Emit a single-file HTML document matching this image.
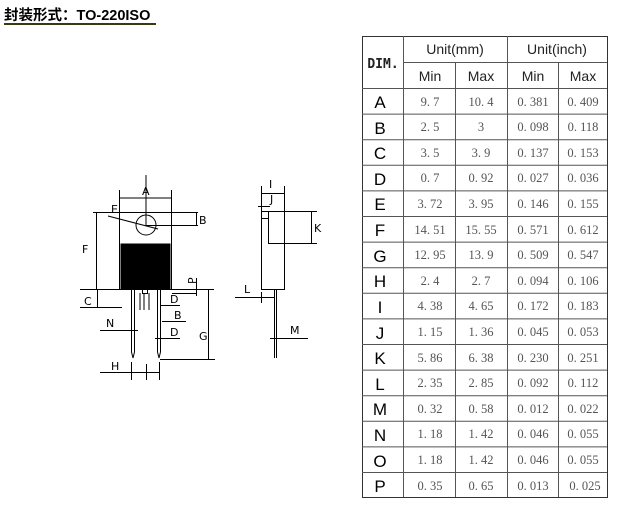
<!DOCTYPE html>
<html><head><meta charset="utf-8"><style>
html,body{margin:0;padding:0;background:#fff;}
body{width:618px;height:506px;overflow:hidden;position:relative;}
</style></head><body>
<svg width="618" height="506" viewBox="0 0 618 506" xmlns="http://www.w3.org/2000/svg" style="position:absolute;left:0;top:0">
<text x="4" y="20" font-family="'Liberation Sans','Noto Sans CJK SC',sans-serif" font-size="14.5" font-weight="bold" fill="#000">封装形式：TO-220ISO</text>
<line x1="4" y1="24" x2="156" y2="24" stroke="#3a3a10" stroke-width="2"/>

<g stroke="#000" stroke-width="1" fill="none">
<rect x="119.5" y="212.5" width="52" height="77"/>
<rect x="121" y="244" width="49" height="45" fill="#000"/>
<circle cx="146" cy="225" r="10"/>
<line x1="108" y1="216" x2="158" y2="229"/>
<line x1="146" y1="175" x2="146" y2="226"/>
<line x1="119.5" y1="198" x2="171.5" y2="198"/>
<line x1="119.5" y1="190" x2="119.5" y2="212"/>
<line x1="171.5" y1="190" x2="171.5" y2="212"/>
<line x1="146" y1="225.5" x2="198" y2="225.5"/>
<line x1="171" y1="212.5" x2="198" y2="212.5"/>
<line x1="196.5" y1="212" x2="196.5" y2="226"/>
<line x1="93" y1="212.5" x2="119" y2="212.5"/>
<line x1="96.5" y1="212" x2="96.5" y2="289"/>
<line x1="80" y1="289.5" x2="214" y2="289.5"/>
<line x1="97.5" y1="289" x2="97.5" y2="307"/>
<line x1="80" y1="307.5" x2="122" y2="307.5"/>
<line x1="196.5" y1="278" x2="196.5" y2="296"/>
<line x1="172" y1="293.5" x2="196" y2="293.5"/>
<rect x="142.5" y="289.5" width="5" height="4"/>
<path d="M131.5 289.5 V352 L133 358 L134.5 352 V289.5"/>
<path d="M157.5 289.5 V352 L159 358 L160.5 352 V289.5"/>
<line x1="208.5" y1="289" x2="208.5" y2="359"/>
<line x1="160" y1="359.5" x2="215" y2="359.5"/>
<line x1="100" y1="330.5" x2="138" y2="330.5"/>
<line x1="160" y1="305.5" x2="180" y2="305.5"/>
<line x1="162" y1="321.5" x2="186" y2="321.5"/>
<line x1="155" y1="338.5" x2="180" y2="338.5"/>
<line x1="140" y1="293" x2="140" y2="310"/>
<line x1="144" y1="293" x2="144" y2="310"/>
<line x1="149" y1="293" x2="149" y2="310"/>
<line x1="100" y1="372.5" x2="160" y2="372.5"/>
<line x1="131.5" y1="362" x2="131.5" y2="380"/>
<line x1="146.5" y1="364" x2="146.5" y2="380"/>
<line x1="159.5" y1="362" x2="159.5" y2="380"/>
<rect x="261.5" y="211.5" width="23" height="78"/>
<line x1="268.5" y1="211.5" x2="268.5" y2="243"/>
<line x1="268" y1="243.5" x2="284" y2="243.5"/>
<line x1="262" y1="218.5" x2="268" y2="218.5"/>
<line x1="284" y1="211.5" x2="317" y2="211.5"/>
<line x1="284" y1="243.5" x2="317" y2="243.5"/>
<line x1="311.5" y1="211" x2="311.5" y2="244"/>
<line x1="261.5" y1="186" x2="261.5" y2="211"/>
<line x1="284.5" y1="186" x2="284.5" y2="211"/>
<line x1="261.5" y1="193.5" x2="284.5" y2="193.5"/>
<line x1="258" y1="206.5" x2="270" y2="206.5"/>
<line x1="274.5" y1="289.5" x2="274.5" y2="358"/>
<line x1="276.5" y1="289.5" x2="276.5" y2="358"/>
<line x1="235" y1="297.5" x2="275" y2="297.5"/>
<line x1="261.5" y1="292" x2="261.5" y2="303"/>
<line x1="270" y1="338.5" x2="308" y2="338.5"/>
</g>
<g font-family="'DejaVu Sans',sans-serif" font-size="11" fill="#000">
<text x="142" y="195">A</text>
<text x="111" y="213">E</text>
<text x="199" y="224">B</text>
<text x="82" y="253">F</text>
<text x="84" y="305">C</text>
<text x="192" y="288" transform="rotate(-90 192 284)">P</text>
<text x="170" y="303">D</text>
<text x="174" y="319">B</text>
<text x="170" y="336">D</text>
<text x="199" y="340">G</text>
<text x="106" y="327">N</text>
<text x="111" y="370">H</text>
<text x="269" y="188">I</text>
<text x="270" y="203">J</text>
<text x="314" y="232">K</text>
<text x="244" y="293">L</text>
<text x="290" y="334">M</text>
</g>

<g stroke="#555" stroke-width="1">
<rect x="362.5" y="36.5" width="245" height="461" fill="none" stroke="#333"/>
<line x1="403.5" y1="36" x2="403.5" y2="497"/>
<line x1="507.5" y1="36" x2="507.5" y2="497"/>
<line x1="455.5" y1="62" x2="455.5" y2="497"/>
<line x1="558.5" y1="62" x2="558.5" y2="497"/>
<line x1="403" y1="62.5" x2="607" y2="62.5"/>
<line x1="362" y1="88.5" x2="607" y2="88.5"/>
<line x1="362" y1="114.1" x2="607" y2="114.1"/><line x1="362" y1="139.7" x2="607" y2="139.7"/><line x1="362" y1="165.3" x2="607" y2="165.3"/><line x1="362" y1="190.9" x2="607" y2="190.9"/><line x1="362" y1="216.5" x2="607" y2="216.5"/><line x1="362" y1="242.1" x2="607" y2="242.1"/><line x1="362" y1="267.7" x2="607" y2="267.7"/><line x1="362" y1="293.3" x2="607" y2="293.3"/><line x1="362" y1="318.9" x2="607" y2="318.9"/><line x1="362" y1="344.5" x2="607" y2="344.5"/><line x1="362" y1="370.1" x2="607" y2="370.1"/><line x1="362" y1="395.7" x2="607" y2="395.7"/><line x1="362" y1="421.3" x2="607" y2="421.3"/><line x1="362" y1="446.9" x2="607" y2="446.9"/><line x1="362" y1="472.5" x2="607" y2="472.5"/>
</g>
<g font-family="'Liberation Sans',sans-serif" font-size="14" fill="#222" text-anchor="middle">
<text x="383" y="68" font-family="'DejaVu Sans Mono',monospace" font-size="13" font-weight="bold">DIM.</text>
<text x="455" y="54">Unit(mm)</text>
<text x="557" y="54">Unit(inch)</text>
<text x="430" y="81">Min</text><text x="481" y="81">Max</text>
<text x="533" y="81">Min</text><text x="583" y="81">Max</text>
</g>
<g font-family="'Liberation Sans',sans-serif" font-size="17" fill="#000" text-anchor="middle">
<text x="380" y="108">A</text><text x="380" y="134">B</text><text x="380" y="159">C</text><text x="380" y="185">D</text><text x="380" y="210">E</text><text x="380" y="236">F</text><text x="380" y="262">G</text><text x="380" y="287">H</text><text x="380" y="313">I</text><text x="380" y="339">J</text><text x="380" y="364">K</text><text x="380" y="390">L</text><text x="380" y="415">M</text><text x="380" y="441">N</text><text x="380" y="467">O</text><text x="380" y="492">P</text>
</g>
<g font-family="'Liberation Serif',serif" font-size="12.5" fill="#555" text-anchor="middle">
<text x="430" y="106">9. 7</text><text x="481" y="106">10. 4</text><text x="533" y="106">0. 381</text><text x="583" y="106">0. 409</text>
<text x="430" y="131">2. 5</text><text x="481" y="131">3</text><text x="533" y="131">0. 098</text><text x="583" y="131">0. 118</text>
<text x="430" y="157">3. 5</text><text x="481" y="157">3. 9</text><text x="533" y="157">0. 137</text><text x="583" y="157">0. 153</text>
<text x="430" y="182">0. 7</text><text x="481" y="182">0. 92</text><text x="533" y="182">0. 027</text><text x="583" y="182">0. 036</text>
<text x="430" y="208">3. 72</text><text x="481" y="208">3. 95</text><text x="533" y="208">0. 146</text><text x="583" y="208">0. 155</text>
<text x="430" y="234">14. 51</text><text x="481" y="234">15. 55</text><text x="533" y="234">0. 571</text><text x="583" y="234">0. 612</text>
<text x="430" y="259">12. 95</text><text x="481" y="259">13. 9</text><text x="533" y="259">0. 509</text><text x="583" y="259">0. 547</text>
<text x="430" y="285">2. 4</text><text x="481" y="285">2. 7</text><text x="533" y="285">0. 094</text><text x="583" y="285">0. 106</text>
<text x="430" y="310">4. 38</text><text x="481" y="310">4. 65</text><text x="533" y="310">0. 172</text><text x="583" y="310">0. 183</text>
<text x="430" y="336">1. 15</text><text x="481" y="336">1. 36</text><text x="533" y="336">0. 045</text><text x="583" y="336">0. 053</text>
<text x="430" y="362">5. 86</text><text x="481" y="362">6. 38</text><text x="533" y="362">0. 230</text><text x="583" y="362">0. 251</text>
<text x="430" y="387">2. 35</text><text x="481" y="387">2. 85</text><text x="533" y="387">0. 092</text><text x="583" y="387">0. 112</text>
<text x="430" y="413">0. 32</text><text x="481" y="413">0. 58</text><text x="533" y="413">0. 012</text><text x="583" y="413">0. 022</text>
<text x="430" y="438">1. 18</text><text x="481" y="438">1. 42</text><text x="533" y="438">0. 046</text><text x="583" y="438">0. 055</text>
<text x="430" y="464">1. 18</text><text x="481" y="464">1. 42</text><text x="533" y="464">0. 046</text><text x="583" y="464">0. 055</text>
<text x="430" y="490">0. 35</text><text x="481" y="490">0. 65</text><text x="533" y="490">0. 013</text><text x="585" y="490">0. 025</text>
</g>
</svg>
</body></html>
